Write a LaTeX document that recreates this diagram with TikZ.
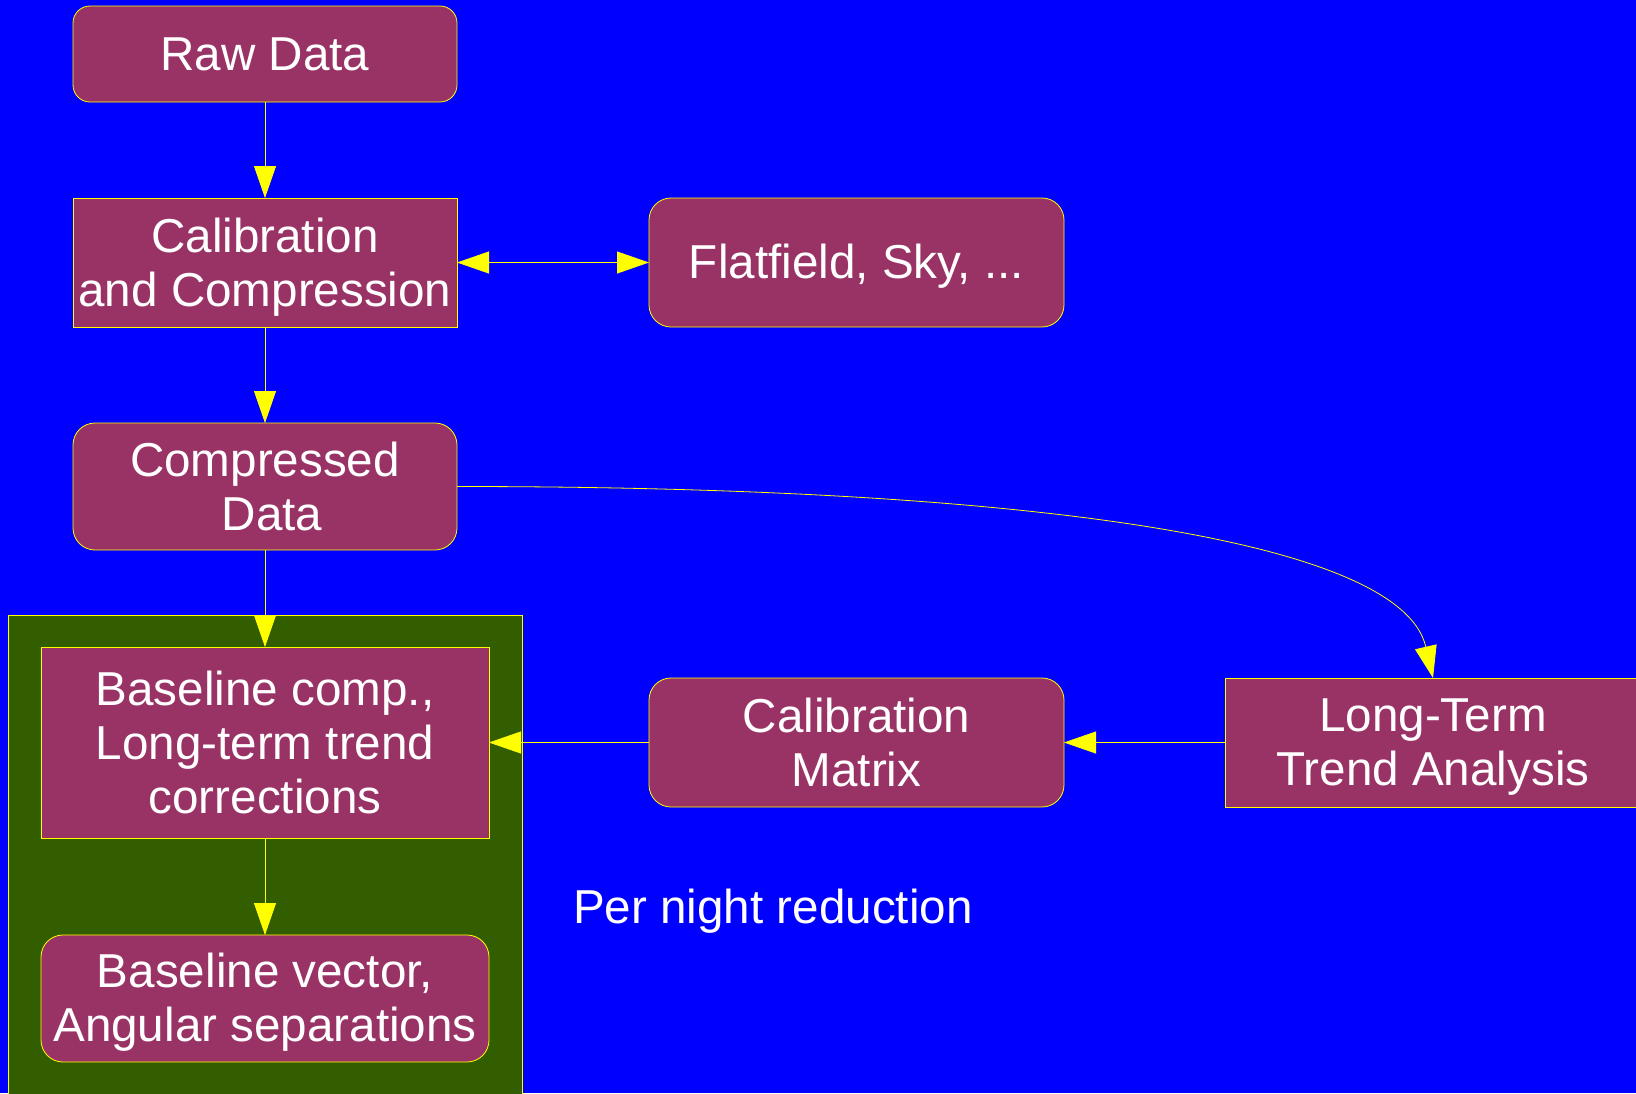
\documentclass[tikz,border=0pt]{standalone}
\usepackage{fontspec}
\setmainfont{Liberation Sans}
\usetikzlibrary{arrows.meta}
\definecolor{bgblue}{RGB}{0,0,255}
\definecolor{boxfill}{RGB}{153,51,102}
\definecolor{grp}{RGB}{51,94,0}
\definecolor{edge}{RGB}{255,255,0}
\begin{document}
\begin{tikzpicture}[x=1pt,y=-1pt,
  txt/.style={text=white, align=center, inner sep=0pt, font=\fontsize{47.6}{54}\selectfont},
  box/.style={draw=edge, line width=0.8pt, fill=boxfill, inner sep=0pt, outer sep=0pt},
  rbox/.style={box, rounded corners=22pt},
  conn/.style={draw=edge, line width=0.8pt, -{Triangle[width=22pt,length=32pt]}},
  dconn/.style={draw=edge, line width=0.8pt, {Triangle[width=22pt,length=32pt]}-{Triangle[width=22pt,length=32pt]}}
]
\useasboundingbox (0,0) rectangle (1636,1093);
\fill[bgblue] (0,0) rectangle (1636,1093);
\draw[draw=edge, line width=0.8pt, fill=grp] (8,1100) -- (8,615) -- (522,615) -- (522,1100);

\node[rbox, rounded corners=17pt, minimum width=384pt, minimum height=96pt,
  label={[txt]center:Raw Data}] (raw) at (265,54) {};
\node[box, minimum width=384pt, minimum height=129pt,
  label={[txt, yshift=-5pt]center:{Calibration\\and Compression}}] (cal) at (265,262.5) {};
\node[rbox, minimum width=415pt, minimum height=129pt,
  label={[txt, yshift=-4pt]center:{Flatfield, Sky, ...}}] (flat) at (856.5,262.5) {};
\node[rbox, minimum width=384pt, minimum height=127pt,
  label={[txt]center:{Compressed\\\hspace*{14pt}Data}}] (comp) at (265,486.5) {};
\node[box, minimum width=448pt, minimum height=191pt,
  label={[txt]center:{Baseline comp.,\\Long-term trend\\corrections}}] (bcomp) at (265,742.5) {};
\node[rbox, minimum width=448pt, minimum height=127pt,
  label={[txt, yshift=-4pt]center:{Baseline vector,\\Angular separations}}] (bvec) at (265,998.5) {};
\node[rbox, minimum width=415pt, minimum height=129pt,
  label={[txt]center:{Calibration\\Matrix}}] (cmat) at (856.5,742.5) {};
\node[box, minimum width=416pt, minimum height=129pt,
  label={[txt, yshift=-5pt]center:{Long-Term\\Trend Analysis}}] (lt) at (1433,742.5) {};
\node[txt] (pnr) at (773,911) {Per night reduction};

\draw[conn] (raw) -- (cal);
\draw[dconn] (cal) -- (flat);
\draw[conn] (cal) -- (comp);
\draw[conn] (comp) -- (bcomp);
\draw[conn] (bcomp) -- (bvec);
\draw[conn] (cmat) -- (bcomp);
\draw[conn] (lt) -- (cmat);
\draw[conn] (comp.east) .. controls (1000,486.5) and (1400,535) .. (lt.north);
\end{tikzpicture}
\end{document}
